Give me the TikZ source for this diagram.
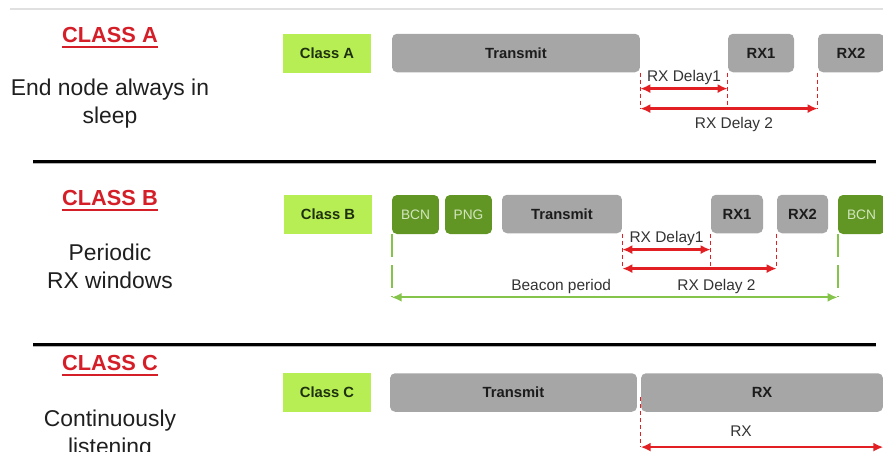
\documentclass[tikz,border=0pt]{standalone}
\usepackage{fontspec}
\setmainfont{Liberation Sans}
\usetikzlibrary{arrows.meta}
\definecolor{limeA}{RGB}{182,238,84}
\definecolor{limeT}{RGB}{30,48,14}
\definecolor{greenD}{RGB}{98,150,36}
\definecolor{greenT}{RGB}{210,230,190}
\definecolor{greenL}{RGB}{132,196,74}
\definecolor{grayA}{RGB}{166,166,166}
\definecolor{grayT}{RGB}{28,28,28}
\definecolor{redL}{RGB}{226,32,36}
\definecolor{redC}{RGB}{212,30,40}
\tikzset{
  clsbox/.style={fill=limeA, text=limeT, inner sep=0pt, minimum height=0.78cm, minimum width=1.76cm, font=\bfseries\fontsize{8.4}{10}\selectfont},
  slot/.style={fill=grayA, text=grayT, rounded corners=0.1cm, inner sep=0pt, minimum height=0.77cm, font=\bfseries\fontsize{8.4}{10}\selectfont},
  bcnbox/.style={fill=greenD, text=greenT, rounded corners=0.1cm, inner sep=0pt, minimum height=0.78cm, minimum width=0.94cm, font=\fontsize{7.8}{9}\selectfont},
  rdash/.style={redL, line width=0.8pt, dash pattern=on 2.3pt off 1.7pt},
  gdash/.style={greenL, line width=1.1pt, dash pattern=on 13pt off 4.5pt},
  rarr/.style={redL, line width=1.3pt, <->},
  garr/.style={greenL, line width=1.3pt, <->},
  dlbl/.style={text=black!80, inner sep=1.5pt, font=\fontsize{8.8}{10}\selectfont},
  clsname/.style={text=redC, inner sep=0pt, font=\bfseries\fontsize{12.4}{15}\selectfont},
  clsdesc/.style={text=black!88, align=center, inner sep=0pt, font=\fontsize{13}{16}\selectfont},
}
\begin{document}
\begin{tikzpicture}[x=0.02cm, y=-0.02cm, >={Latex[length=2mm,width=1.8mm]}, line cap=butt]
\useasboundingbox (0,0) rectangle (883,451);
\clip (0,0) rectangle (883,451);
% rules
\draw[black!12, line width=0.8pt] (10,9) -- (883,9);
\foreach \y in {161,344} {
  \draw[black!30, line width=1pt] (33,\y+2.5) -- (876,\y+2.5);
  \draw[black, line width=1.7pt] (33,\y) -- (876,\y);
}
% left column
\node[clsname] (clsAt) at (110,35) {CLASS A};
\node[clsname] (clsBt) at (110,198) {CLASS B};
\node[clsname] (clsCt) at (110,363) {CLASS C};
\foreach \n in {clsAt,clsBt,clsCt}
  \draw[redC, line width=1.1pt] ([yshift=-2.6pt]\n.base west) -- ([yshift=-2.6pt]\n.base east);
\node[clsdesc] (descA) at (110,104) {End node always in\\sleep};
\node[clsdesc] (descB) at (110,266.5) {Periodic\\RX windows};
\node[clsdesc] (descC) at (110,435) {Continuously\\listening};
% class A
\node[clsbox] (clsA) at (327,53.5) {Class A};
\node[slot, minimum width=4.96cm] (txA) at (516,53) {Transmit};
\node[slot, minimum width=1.32cm] (rx1A) at (761,53) {RX1};
\node[slot, minimum width=1.32cm] (rx2A) at (851,53) {RX2};
\draw[rdash] (txA.south east) -- ++(0,36) coordinate (a0);
\draw[rdash] (rx1A.south west) -- ++(0,36) coordinate (a1);
\draw[rdash] (rx2A.south west) -- ++(0,36) coordinate (a2);
\path (txA.south east) ++(0,16) coordinate (d1A);
\draw[rarr] (d1A) -- (d1A -| a1) node[dlbl, midway, above] {RX Delay1};
\draw[rarr] (a0) -- (a2) node[dlbl, midway, below=3pt, xshift=0.1cm] {RX Delay 2};
% class B
\node[clsbox] (clsB) at (328,214.5) {Class B};
\node[bcnbox] (bcn1) at (415.5,214.5) {BCN};
\node[bcnbox] (png) at (468.5,214.5) {PNG};
\node[slot, minimum width=2.4cm] (txB) at (562,214) {Transmit};
\node[slot, minimum width=1.04cm] (rx1B) at (737,214) {RX1};
\node[slot, minimum width=1.02cm] (rx2B) at (802.5,214) {RX2};
\node[bcnbox] (bcn2) at (861.5,214.5) {BCN};
\draw[rdash] (txB.south east) -- ++(0,35) coordinate (b0);
\draw[rdash] (rx1B.south west) -- ++(0,35) coordinate (b1);
\draw[rdash] (rx2B.south west) -- ++(0,35) coordinate (b2);
\path (txB.south east) ++(0,16) coordinate (d1B);
\draw[rarr] (d1B) -- (d1B -| b1) node[dlbl, midway, above] {RX Delay1};
\draw[rarr] (b0) -- (b2) node[dlbl, midway, below=4pt, xshift=0.34cm] {RX Delay 2};
\draw[gdash] (bcn1.south west) -- ++(0,63) coordinate (p0);
\draw[gdash] (bcn2.south west) -- ++(0,63) coordinate (p1);
\draw[garr] (p0) -- (p1) node[dlbl, pos=0.38, above] {Beacon period};
% class C
\node[clsbox] (clsC) at (327,392.5) {Class C};
\node[slot, minimum width=4.94cm] (txC) at (513.5,392.5) {Transmit};
\node[slot, minimum width=4.84cm] (rxC) at (762,392.5) {RX};
\draw[rdash] ([yshift=0.3cm]rxC.south west) -- ++(0,50) coordinate (c0);
\draw[rdash] ([yshift=0.3cm]rxC.south east) -- ++(0,50) coordinate (c1);
\draw[rarr] (c0) -- (c1) node[dlbl, midway, above=4pt, xshift=-0.42cm] {RX};
\end{tikzpicture}
\end{document}
